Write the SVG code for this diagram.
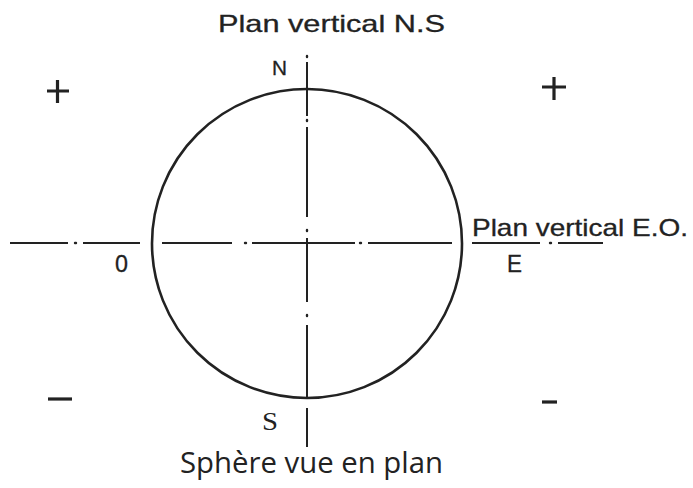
<svg xmlns="http://www.w3.org/2000/svg" width="693" height="488" viewBox="0 0 693 488">
<style>
.ax{stroke:#222;stroke-width:2;fill:none}
.dot{stroke:#222;stroke-width:2.4;fill:none;stroke-linecap:round}
.sph{stroke:#222;stroke-width:2.6;fill:none}
.sign{stroke:#222;stroke-width:3.2;fill:none}
.t{font-family:"Liberation Sans",Arial,sans-serif;fill:#222;stroke:#222;stroke-width:0.3}
.ts{font-family:"Liberation Serif","Times New Roman",serif;fill:#222}
.th{font-family:"Open Sans","Liberation Sans",sans-serif;fill:#222}
</style>
<rect width="693" height="488" fill="#fff"/>
<g id="sphere">
<ellipse class="sph" cx="307" cy="243.5" rx="155" ry="154.5"/>
</g>
<g id="connectors">
<g id="axis-EO">
<line class="ax" x1="10" y1="243" x2="68" y2="243"/>
<line class="dot" x1="75" y1="243" x2="76" y2="243"/>
<line class="ax" x1="83" y1="243" x2="140" y2="243"/>
<line class="ax" x1="162" y1="243" x2="232" y2="243"/>
<line class="dot" x1="245" y1="243" x2="246" y2="243"/>
<line class="ax" x1="252" y1="243" x2="355" y2="243"/>
<line class="dot" x1="360" y1="243" x2="361" y2="243"/>
<line class="ax" x1="368" y1="243" x2="452" y2="243"/>
<line class="ax" x1="472" y1="243" x2="540" y2="243"/>
<line class="dot" x1="550" y1="243" x2="551" y2="243"/>
<line class="ax" x1="558" y1="243" x2="603" y2="243"/>
</g>
<g id="axis-NS">
<line class="dot" x1="307" y1="56" x2="307" y2="57"/>
<line class="ax" x1="307" y1="62" x2="307" y2="116"/>
<line class="dot" x1="307" y1="120" x2="307" y2="121"/>
<line class="ax" x1="307" y1="127" x2="307" y2="217"/>
<line class="dot" x1="307" y1="230" x2="307" y2="231"/>
<line class="ax" x1="307" y1="238" x2="307" y2="302"/>
<line class="dot" x1="307" y1="315" x2="307" y2="316"/>
<line class="ax" x1="307" y1="325" x2="307" y2="398"/>
<line class="ax" x1="307" y1="408" x2="307" y2="447"/>
</g>
</g>
<g id="signs">
<path class="sign" d="M47 91H69M57.5 80V103"/>
<path class="sign" d="M542 87H566M554 77V100"/>
<path class="sign" d="M48 399H72"/>
<path class="sign" d="M542 402H557"/>
</g>
<g id="labels">
<text class="t" x="218" y="32" font-size="24" textLength="227" lengthAdjust="spacingAndGlyphs">Plan vertical  N.S</text>
<text class="t" x="272" y="75" font-size="20" textLength="15" lengthAdjust="spacingAndGlyphs">N</text>
<text class="t" x="115" y="272" font-size="24" textLength="13" lengthAdjust="spacingAndGlyphs">0</text>
<text class="t" x="507" y="272" font-size="24" textLength="15" lengthAdjust="spacingAndGlyphs">E</text>
<text class="t" x="472" y="236" font-size="24" textLength="216" lengthAdjust="spacingAndGlyphs">Plan vertical E.O.</text>
<text class="ts" x="262" y="430" font-size="25" textLength="16" lengthAdjust="spacingAndGlyphs">S</text>
<text class="th" x="180" y="473" font-size="29" textLength="263" lengthAdjust="spacingAndGlyphs">Sphère vue en plan</text>
</g>
</svg>
